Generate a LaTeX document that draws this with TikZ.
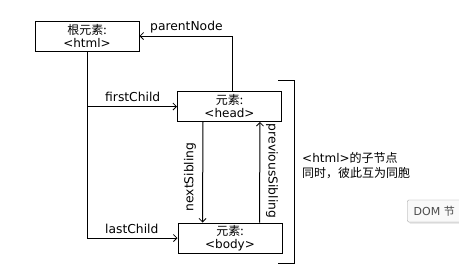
\documentclass[tikz,border=0pt]{standalone}
\usepackage{fontspec}
\setmainfont{DejaVu Sans}
\newfontfamily\cjk{Noto Sans CJK SC}
\usetikzlibrary{arrows.meta,shadows}
\tikzset{
  elem/.style={draw, line width=1pt, inner sep=0pt, minimum width=104pt, minimum height=30pt,
    align=center, font=\fontsize{12}{13}\selectfont},
  link/.style={line width=1pt, -{Straight Barb[length=3.5pt,width=7pt,line width=0.8pt]}},
  lbl/.style={inner sep=0pt, font=\fontsize{12.3}{13}\selectfont},
}
\begin{document}
\begin{tikzpicture}[x=1pt,y=-1pt]
\useasboundingbox (0,0) rectangle (459,279);
\fill[white] (0,0) rectangle (459,279);

% element boxes
\node[elem] (root) at (87,36) {{\cjk 根元素:}\\<html>};
\node[elem] (head) at (229.5,106.5) {{\cjk 元素:}\\<head>};
\node[elem] (body) at (230,238) {{\cjk 元素:}\\<body>};

% child links from the root
\draw[link] (root.south) |- (head.west);
\draw[link] (root.south) |- (body.west);
\node[lbl, anchor=base west] (lfirst) at (105,101) {firstChild};
\node[lbl, anchor=base west] (llast) at (105,233) {lastChild};

% parent link
\draw[link] ([xshift=2.5pt]head.north) |- (root.east);
\node[lbl, anchor=base west] (lparent) at (150,30) {parentNode};

% sibling links
\draw[link] ([xshift=26pt]head.south west) -- ([xshift=25pt]body.north west);
\draw[link] ([xshift=82pt]body.north west) -- ([xshift=83pt]head.south west);
\node[lbl, rotate=90] (lnext) at (190,177) {nextSibling};
\node[lbl, rotate=-90] (lprev) at (272,171) {previousSibling};

% bracket grouping the children
\draw[line width=1pt] (278,80) -- (294,80) -- (294,263) -- (278,263);
\node[lbl, anchor=north west, align=left, font=\fontsize{12}{15}\selectfont] (note) at (302,152)
  {<html>{\cjk 的子节点}\\{\cjk 同时，彼此互为同胞}};

% tooltip, its frame running past the right edge
\node[draw=gray!75, fill=gray!5, drop shadow={opacity=0.25,shadow xshift=1.5pt,shadow yshift=-1.5pt},
  rounded corners=1.5pt, anchor=west, minimum height=22pt, minimum width=70pt, inner xsep=5.5pt,
  font=\fontsize{11}{13}\selectfont, text=black!70, align=left] (tip) at (407,211)
  {DOM {\cjk 节}\hspace{16pt}};
\end{tikzpicture}
\end{document}
